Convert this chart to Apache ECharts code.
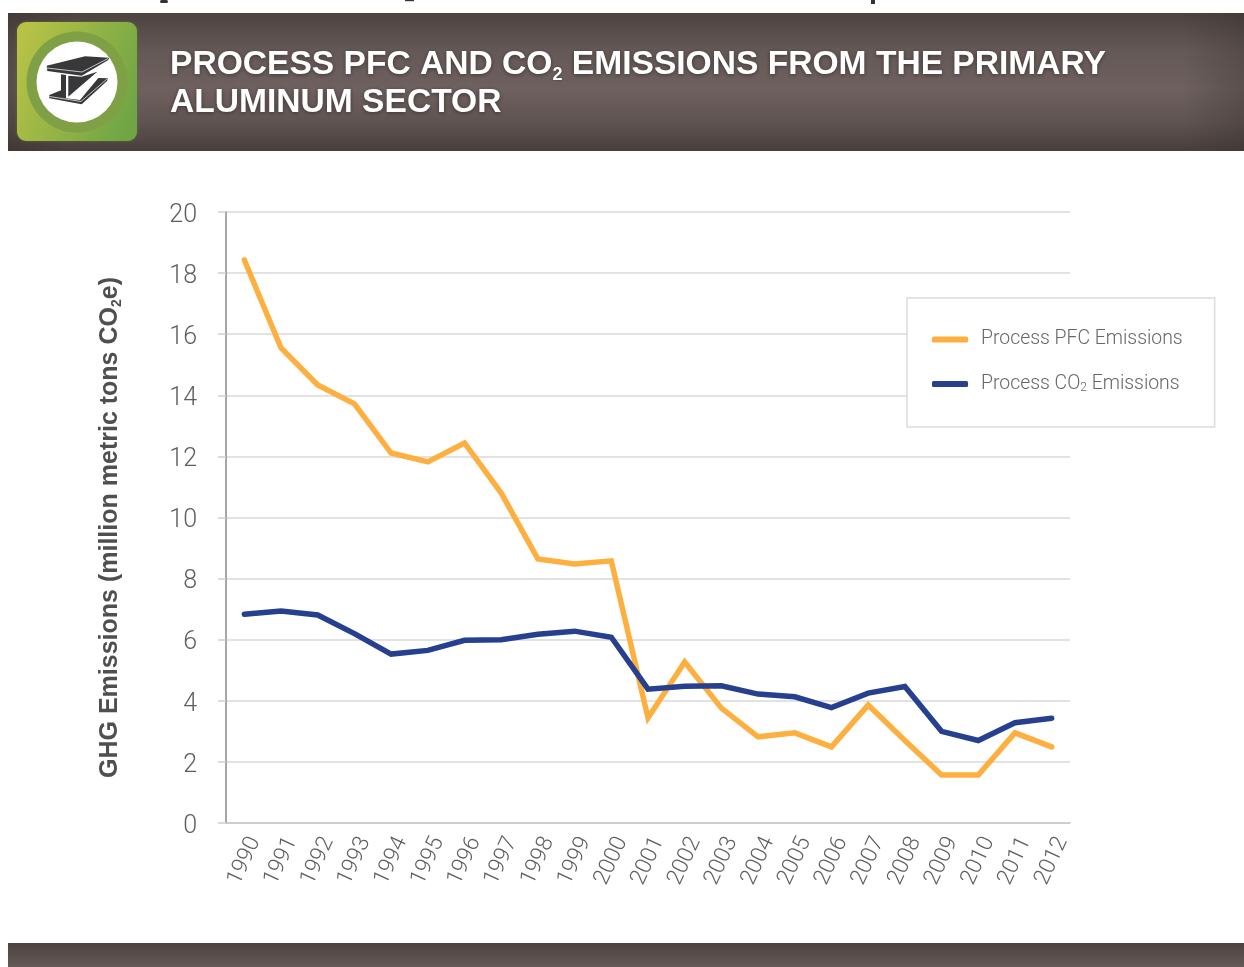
<!DOCTYPE html>
<html>
<head>
<meta charset="utf-8">
<style>html,body{margin:0;padding:0;background:#fff}#c{width:1244px;height:967px}</style>
<script src="https://cdn.jsdelivr.net/npm/echarts@6/dist/echarts.min.js"></script>
</head>
<body>
<div id="c"></div>
<script>
const years = ['1990','1991','1992','1993','1994','1995','1996','1997','1998','1999','2000','2001','2002','2003','2004','2005','2006','2007','2008','2009','2010','2011','2012'];
const pfc = [18.43,15.55,14.34,13.72,12.11,11.82,12.44,10.8,8.64,8.48,8.58,3.44,5.27,3.76,2.82,2.95,2.49,3.86,2.7,1.57,1.57,2.95,2.49];
const co2 = [6.83,6.94,6.81,6.2,5.53,5.65,5.98,6.0,6.18,6.28,6.08,4.38,4.48,4.49,4.22,4.13,3.78,4.25,4.47,3.0,2.7,3.28,3.43];
const yTicks = {min:0,max:20,interval:2};
const titleText = '{a|PROCESS PFC AND CO}{s|2}{a| EMISSIONS FROM THE PRIMARY}\n{a|ALUMINUM SECTOR}';
const yName = '{b|GHG Emissions (million metric tons CO}{u|2}{b|e)}';
const namePFC = 'Process PFC Emissions';
const nameCO2 = 'Process CO2 Emissions';

const LIGHT = 'Roboto';
const INK = '#38383a';
const band = {type:'linear',x:0,y:0,x2:0,y2:1,colorStops:[{offset:0,color:'#4c4240'},{offset:.28,color:'#655957'},{offset:.55,color:'#6d605e'},{offset:.8,color:'#5f5351'},{offset:1,color:'#483e3c'}]};
const sideShade = {type:'linear',x:0,y:0,x2:1,y2:0,colorStops:[{offset:0,color:'rgba(50,42,40,.35)'},{offset:.05,color:'rgba(50,42,40,0)'},{offset:.95,color:'rgba(50,42,40,0)'},{offset:1,color:'rgba(50,42,40,.3)'}]};
const deco = (type,shape,style,z)=>({type,silent:true,z,shape,style});
const chart = echarts.init(document.getElementById('c'),null,{renderer:'canvas'});
chart.setOption({
  backgroundColor:'#fff',
  animation:false,
  title:{
    text:titleText, left:170, top:46, padding:0,
    textStyle:{
      rich:{
        a:{fontFamily:'Liberation Sans',fontWeight:'bold',fontSize:33.6,lineHeight:38,color:'#fff',textShadowColor:'rgba(30,20,20,.55)',textShadowBlur:4,textShadowOffsetY:1},
        s:{fontFamily:'Liberation Sans',fontWeight:'bold',fontSize:18,lineHeight:38,color:'#fff',verticalAlign:'bottom',padding:[14,0,0,0],textShadowColor:'rgba(30,20,20,.55)',textShadowBlur:3}
      }
    }
  },
  grid:{left:226,right:174,top:212,bottom:144,containLabel:false},
  legend:{
    show:true, left:907, top:298, orient:'vertical',
    padding:[32,32,33,25], itemGap:20, itemWidth:36, itemHeight:6,
    backgroundColor:'#fff', borderColor:'#dcdcdc', borderWidth:1.5,
    icon:'roundRect',
    data:[namePFC,nameCO2],
    formatter:n=> n===nameCO2 ? '{t|Process CO}{s|2}{t| Emissions}' : '{t|'+n+'}',
    textStyle:{padding:[0,0,0,8],rich:{
      t:{fontFamily:LIGHT,fontWeight:300,fontSize:19.4,color:'#666',lineHeight:20},
      s:{fontFamily:LIGHT,fontWeight:300,fontSize:12,color:'#666',verticalAlign:'bottom',lineHeight:20,padding:[13,0,0,0]}
    }}
  },
  xAxis:{
    type:'category', data:years, boundaryGap:true,
    axisLine:{lineStyle:{color:'#c8c8c8',width:1.5}},
    axisTick:{show:false},
    axisLabel:{interval:0,rotate:65,align:'center',verticalAlign:'middle',margin:38,padding:[0,0,24,0],fontFamily:LIGHT,fontWeight:300,fontSize:22.5,color:'#5e5e5e'}
  },
  yAxis:{
    type:'value', min:yTicks.min, max:yTicks.max, interval:yTicks.interval,
    name:yName, nameLocation:'middle', nameRotate:90, nameGap:102,
    nameTextStyle:{padding:[0,20,0,0],rich:{
      b:{fontFamily:'Liberation Sans',fontWeight:'bold',fontSize:25,color:'#4f4f4f',lineHeight:28},
      u:{fontFamily:'Liberation Sans',fontWeight:'bold',fontSize:14,color:'#4f4f4f',lineHeight:28,verticalAlign:'bottom',padding:[10,0,0,0]}
    }},
    axisLine:{show:true,lineStyle:{color:'#8a8a8a',width:1.5}},
    axisTick:{show:true,length:8,lineStyle:{color:'#cfcfcf',width:1.5}},
    axisLabel:{margin:29,lineHeight:7,verticalAlign:'top',fontFamily:LIGHT,fontWeight:300,fontSize:25,color:'#5e5e5e'},
    splitLine:{show:true,lineStyle:{color:'#d9d9d9',width:1.5}}
  },
  series:[
    {name:namePFC,type:'line',data:pfc,symbol:'none',smooth:false,lineStyle:{color:'#fdb03f',width:5.5,cap:'round',join:'miter'},itemStyle:{color:'#fdb03f'},z:2},
    {name:nameCO2,type:'line',data:co2,symbol:'none',smooth:false,lineStyle:{color:'#26408f',width:5.5,cap:'round',join:'miter'},itemStyle:{color:'#26408f'},z:3}
  ],
  graphic:[
    deco('rect',{x:8,y:13,width:1236,height:138},{fill:band},-10),
    deco('rect',{x:8,y:13,width:1236,height:138},{fill:sideShade},-9),
    deco('rect',{x:8,y:943,width:1236,height:24},{fill:{type:'linear',x:0,y:0,x2:0,y2:1,colorStops:[{offset:0,color:'#4c4240'},{offset:1,color:'#655957'}]}},-10),
    deco('rect',{x:17,y:22,width:120,height:119,r:9},{fill:{type:'linear',x:0,y:.3,x2:1,y2:.7,colorStops:[{offset:0,color:'#b6c146'},{offset:1,color:'#6fa545'}]},shadowBlur:3,shadowColor:'rgba(90,120,40,.7)'},-8),
    deco('circle',{cx:77,cy:82,r:50.5},{fill:'#7fa045'},-7),
    deco('circle',{cx:77,cy:82,r:40.5},{fill:'#fff'},-6),
    deco('polygon',{points:[[46.7,65.7],[85,56.3],[109,57.7],[108.3,60],[81.7,75.7],[47.3,71]]},{fill:INK},-5),
    deco('polyline',{points:[[47,68],[82,72],[108,58.5]]},{fill:'none',stroke:'#e8e8e8',lineWidth:.8},-4),
    deco('polygon',{points:[[61,74.3],[66,75],[66,98.3],[61,97.7]]},{fill:INK},-5),
    deco('polygon',{points:[[68.3,75.7],[81.7,76.7],[97.3,71.7],[68.3,96.7]]},{fill:INK},-5),
    deco('polygon',{points:[[49.3,95],[61.7,90],[61.7,97.7],[80,100],[98.3,78],[107.7,78.3],[107.3,80.7],[81.7,104.3],[49.3,98.3]]},{fill:INK},-5),
    deco('polyline',{points:[[49.5,96.5],[81,101.5],[107,79]]},{fill:'none',stroke:'#e8e8e8',lineWidth:.8},-4),
    deco('rect',{x:160,y:0,width:8,height:3,r:1.5},{fill:'#333'},-10),
    deco('rect',{x:405,y:0,width:9,height:1.2},{fill:'#333'},-10),
    deco('rect',{x:871,y:0,width:4,height:4},{fill:'#333'},-10)
  ]
});
</script>
</body>
</html>
